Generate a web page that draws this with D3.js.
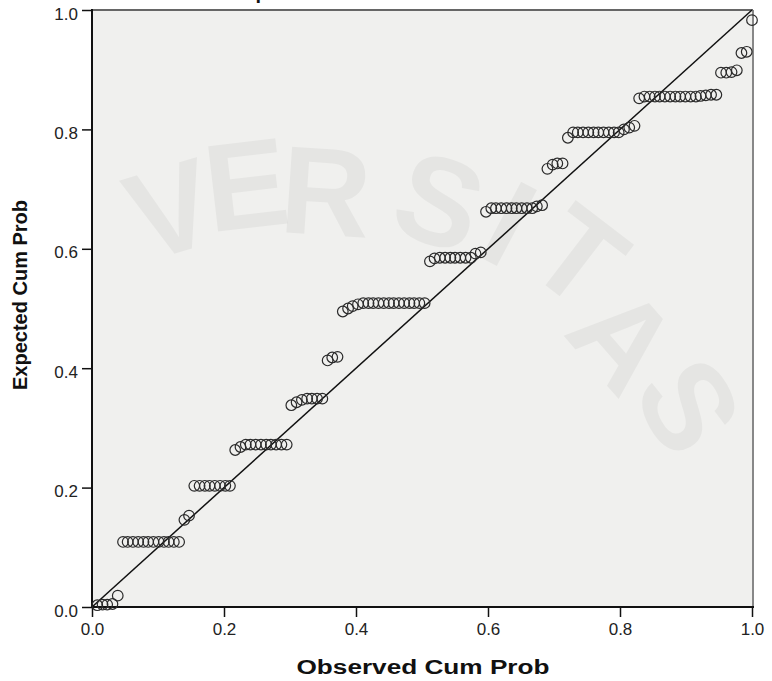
<!DOCTYPE html>
<head>
    <meta charset='utf-8'>
    <style>
        body {
            margin: 0;
            background: #fff;
            font-family: 'Liberation Sans', Arial, sans-serif;
        }
        .tick text {
            font-size: 17px;
            fill: #222;
        }
        .tick line {
            stroke: #111;
            stroke-width: 1.5px;
        }
        .axis-title {
            font-size: 20px;
            font-weight: bold;
            fill: #111;
        }
        .wm {
            font-size: 125px;
            font-weight: bold;
            fill: #000;
            fill-opacity: 0.042;
        }
    </style>
</head>
<body>
<div id='vis'></div>
<script src='https://cdn.jsdelivr.net/npm/d3@7/dist/d3.min.js'></script>
<script>
  const width = 772, height = 681
  const plot = {left: 92, right: 752, top: 10, bottom: 607}

  const xTicks = [0, 0.2, 0.4, 0.6, 0.8, 1.0]
  const yTicks = [0, 0.2, 0.4, 0.6, 0.8, 1.0]
  const xTitle = 'Observed Cum Prob'
  const yTitle = 'Expected Cum Prob'
  const subTitle = 'Dependent Variable: Y'

  // observed cum prob (rank / n), read as equal steps off the chart
  const observed = [
    0.008, 0.016, 0.023, 0.031, 0.039, 0.047, 0.054, 0.062, 0.070, 0.078,
    0.085, 0.093, 0.101, 0.109, 0.116, 0.124, 0.132, 0.140, 0.147, 0.155,
    0.163, 0.171, 0.178, 0.186, 0.194, 0.202, 0.209, 0.217, 0.225, 0.233,
    0.240, 0.248, 0.256, 0.264, 0.271, 0.279, 0.287, 0.295, 0.302, 0.310,
    0.318, 0.326, 0.333, 0.341, 0.349, 0.357, 0.364, 0.372, 0.380, 0.388,
    0.395, 0.403, 0.411, 0.419, 0.426, 0.434, 0.442, 0.450, 0.457, 0.465,
    0.473, 0.481, 0.488, 0.496, 0.504, 0.512, 0.519, 0.527, 0.535, 0.543,
    0.550, 0.558, 0.566, 0.574, 0.581, 0.589, 0.597, 0.605, 0.612, 0.620,
    0.628, 0.636, 0.643, 0.651, 0.659, 0.667, 0.674, 0.682, 0.690, 0.698,
    0.705, 0.713, 0.721, 0.729, 0.736, 0.744, 0.752, 0.760, 0.767, 0.775,
    0.783, 0.791, 0.798, 0.806, 0.814, 0.822, 0.829, 0.837, 0.845, 0.853,
    0.860, 0.868, 0.876, 0.884, 0.891, 0.899, 0.907, 0.915, 0.922, 0.930,
    0.938, 0.946, 0.953, 0.961, 0.969, 0.977, 0.984, 0.992, 1.000
  ]

  // expected cum prob, one per point, grouped by the flat runs
  const expected = [
    0.003, 0.004, 0.004, 0.005, 0.019,
    0.109, 0.109, 0.109, 0.109, 0.109, 0.109, 0.109, 0.109, 0.109, 0.109, 0.109, 0.109,
    0.146, 0.153,
    0.203, 0.203, 0.203, 0.203, 0.203, 0.203, 0.203, 0.203,
    0.263, 0.268, 0.272, 0.272, 0.272, 0.272, 0.272, 0.272, 0.272, 0.272, 0.272,
    0.338, 0.343, 0.347, 0.349, 0.349, 0.349, 0.349,
    0.413, 0.418, 0.419,
    0.495, 0.500, 0.504, 0.507, 0.509, 0.509, 0.509, 0.509, 0.509, 0.509, 0.509,
    0.509, 0.509, 0.509, 0.509, 0.509, 0.509,
    0.579, 0.584, 0.585, 0.585, 0.585, 0.585, 0.585, 0.585, 0.585, 0.592, 0.594,
    0.662, 0.668, 0.668, 0.668, 0.668, 0.668, 0.668, 0.668, 0.668, 0.668, 0.671, 0.673,
    0.734, 0.741, 0.743, 0.743,
    0.786, 0.795, 0.795, 0.795, 0.795, 0.795, 0.795, 0.795, 0.795, 0.795, 0.795,
    0.800, 0.803, 0.806,
    0.852, 0.855, 0.855, 0.855, 0.855, 0.855, 0.855, 0.855, 0.855, 0.855, 0.855,
    0.855, 0.856, 0.857, 0.858, 0.858,
    0.895, 0.895, 0.896, 0.899,
    0.928, 0.930,
    0.983
  ]

  // background watermark letters (centre x, centre y in px)
  const wmLetters = ['V', 'E', 'R', 'S', 'I', 'T', 'A', 'S']
  const wmX = [170, 246, 326, 440, 510, 580, 625, 690]
  const wmY = [208, 183, 190, 200, 222, 255, 338, 405]
  const wmCentre = [297, 624]

  const points = observed.map((d, i) => ({obs: d, exp: expected[i]}))

  const svg = d3.select('#vis')
    .append('svg')
    .attr('width', width)
    .attr('height', height)

  const x = d3.scaleLinear()
    .domain([0, 1])
    .range([plot.left, plot.right])

  const y = d3.scaleLinear()
    .domain([0, 1])
    .range([plot.bottom, plot.top])

  // plot background
  svg.append('rect')
    .attr('x', plot.left)
    .attr('y', plot.top)
    .attr('width', plot.right - plot.left)
    .attr('height', plot.bottom - plot.top)
    .attr('fill', '#f0f0ee')

  // faint watermark, letters turned along an arc
  svg.append('g')
    .selectAll('text')
    .data(wmLetters)
    .enter()
    .append('text')
    .attr('class', 'wm')
    .attr('text-anchor', 'middle')
    .attr('dy', '0.36em')
    .attr('transform', (d, i) => {
      const a = Math.atan2(wmY[i] - wmCentre[1], wmX[i] - wmCentre[0]) * 180 / Math.PI + 90
      return `translate(${wmX[i]}, ${wmY[i]}) rotate(${a})`
    })
    .text(d => d)

  // cut-off subtitle at the very top
  svg.append('text')
    .attr('x', 230)
    .attr('y', -1)
    .attr('class', 'axis-title')
    .text(subTitle)

  // frame top / right
  svg.append('line')
    .attr('x1', plot.left).attr('x2', plot.right + 1)
    .attr('y1', plot.top).attr('y2', plot.top)
    .attr('stroke', '#666').attr('stroke-width', 2)
  svg.append('line')
    .attr('x1', plot.right + 1).attr('x2', plot.right + 1)
    .attr('y1', plot.top).attr('y2', plot.bottom)
    .attr('stroke', '#888').attr('stroke-width', 2)

  // axes
  const xAxis = svg.append('g')
    .attr('transform', `translate(0, ${plot.bottom})`)
    .call(d3.axisBottom(x).tickValues(xTicks).tickFormat(d3.format('.1f')).tickSize(10).tickPadding(6))
  xAxis.select('.domain').remove()

  const yAxis = svg.append('g')
    .attr('transform', `translate(${plot.left}, 0)`)
    .call(d3.axisLeft(y).tickValues(yTicks).tickFormat(d3.format('.1f')).tickSize(10).tickPadding(4))
  yAxis.select('.domain').remove()
  yAxis.selectAll('.tick text').attr('dy', '0.53em')

  svg.append('line')
    .attr('x1', plot.left).attr('x2', plot.left)
    .attr('y1', plot.top - 1).attr('y2', plot.bottom + 1)
    .attr('stroke', '#111').attr('stroke-width', 2)
  svg.append('line')
    .attr('x1', plot.left - 1).attr('x2', plot.right + 2)
    .attr('y1', plot.bottom).attr('y2', plot.bottom)
    .attr('stroke', '#111').attr('stroke-width', 2)

  // reference diagonal
  svg.append('line')
    .attr('x1', x(0)).attr('y1', y(0))
    .attr('x2', x(1)).attr('y2', y(1))
    .attr('stroke', '#111')
    .attr('stroke-width', 1.5)

  // points
  svg.append('g')
    .selectAll('circle')
    .data(points)
    .enter()
    .append('circle')
    .attr('cx', d => x(d.obs))
    .attr('cy', d => y(d.exp))
    .attr('r', 5.3)
    .attr('fill', 'none')
    .attr('stroke', '#2a2a2a')
    .attr('stroke-width', 1.2)

  // axis titles
  svg.append('text')
    .attr('class', 'axis-title')
    .attr('x', 423)
    .attr('y', 674)
    .attr('text-anchor', 'middle')
    .attr('textLength', 253)
    .attr('lengthAdjust', 'spacingAndGlyphs')
    .text(xTitle)

  svg.append('text')
    .attr('class', 'axis-title')
    .attr('transform', 'translate(27, 295) rotate(-90)')
    .attr('text-anchor', 'middle')
    .text(yTitle)
</script>
</body>
